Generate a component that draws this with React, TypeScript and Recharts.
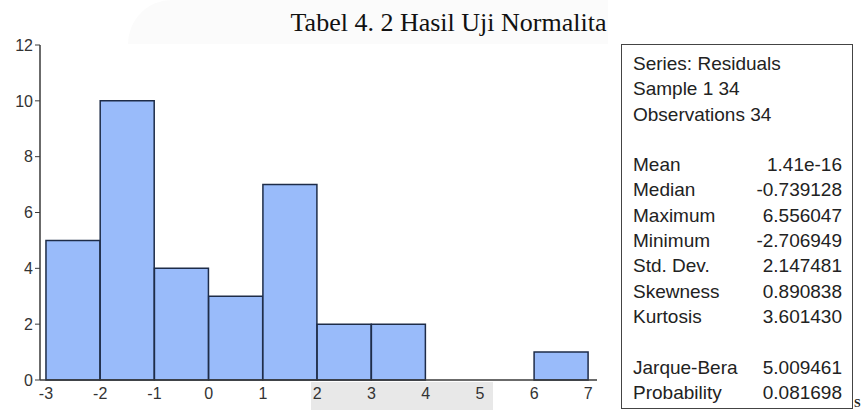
import React from "react";
import { ComposedChart, Bar, XAxis, YAxis } from "recharts";

const binStart = [-3, -2, -1, 0, 1, 2, 3, 4, 5, 6];
const binEnd = [-2, -1, 0, 1, 2, 3, 4, 5, 6, 7];
const counts = [5, 10, 4, 3, 7, 2, 2, 0, 0, 1];
const xTicks = [-3, -2, -1, 0, 1, 2, 3, 4, 5, 6, 7];
const yTicks = [0, 2, 4, 6, 8, 10, 12];

const title = "Tabel 4. 2 Hasil Uji Normalita";
const headerLines = ["Series: Residuals", "Sample 1 34", "Observations 34"];
const statLabels = ["Mean", "Median", "Maximum", "Minimum", "Std. Dev.", "Skewness", "Kurtosis"];
const statValues = ["1.41e-16", "-0.739128", "6.556047", "-2.706949", "2.147481", "0.890838", "3.601430"];
const testLabels = ["Jarque-Bera", "Probability"];
const testValues = ["5.009461", "0.081698"];

const data = counts.map((c, i) => ({ mid: (binStart[i] + binEnd[i]) / 2, count: c }));

const FONT = "Arial, 'Liberation Sans', sans-serif";

export default function App() {
  const rowH = 25.3;
  const row = (label: string, value: string | null, key: string) => (
    <div key={key} style={{ height: rowH, lineHeight: rowH + "px", display: "flex", justifyContent: "space-between", whiteSpace: "nowrap" }}>
      <span>{label}</span>
      <span>{value}</span>
    </div>
  );
  return (
    <div style={{ position: "absolute", left: 0, top: 0, width: 861, height: 410, background: "#fff", overflow: "hidden" }}>
      {/* faint watermark shapes */}
      <div style={{ position: "absolute", left: 128, top: 0, width: 480, height: 44, background: "#fbfbfb", borderTopLeftRadius: 60 }} />
      <div style={{ position: "absolute", left: 311, top: 382, width: 182, height: 28, background: "#e8e8e8" }} />
      <div
        style={{
          position: "absolute",
          left: 0,
          width: 861,
          top: 10,
          lineHeight: "26px",
          textAlign: "center",
          fontFamily: "'Liberation Serif', 'Times New Roman', serif",
          fontSize: 26,
          color: "#111",
          paddingLeft: 36,
          boxSizing: "border-box",
        }}
      >
        {title}
      </div>
      <div style={{ position: "absolute", left: 0, top: 0 }}>
        <ComposedChart
          width={861}
          height={410}
          data={data}
          margin={{ top: 45, right: 264, bottom: 0, left: 0 }}
          barCategoryGap={0}
          barGap={0}
        >
          <XAxis
            dataKey="mid"
            type="number"
            domain={[-3.11, 7.16]}
            ticks={xTicks}
            interval={0}
            allowDataOverflow
            tickLine={false}
            axisLine={{ stroke: "#3a3a3a", strokeWidth: 1.5 }}
            height={30}
            tickMargin={2}
            tick={{ fontFamily: FONT, fontSize: 16, fill: "#333" }}
          />
          <XAxis
            xAxisId="top"
            orientation="top"
            dataKey="mid"
            type="number"
            domain={[-3.11, 7.16]}
            height={0}
            tick={false}
            tickLine={false}
            axisLine={{ stroke: "#3a3a3a", strokeWidth: 1.5 }}
          />
          <YAxis
            domain={[0, 12]}
            ticks={yTicks}
            interval={0}
            width={40}
            tickSize={5}
            tickLine={{ stroke: "#3a3a3a" }}
            axisLine={{ stroke: "#3a3a3a", strokeWidth: 1.5 }}
            tick={{ fontFamily: FONT, fontSize: 16, fill: "#333" }}
            tickMargin={2}
          />
          <YAxis
            yAxisId="right"
            orientation="right"
            domain={[0, 12]}
            width={0}
            tick={false}
            tickLine={false}
            axisLine={{ stroke: "#3a3a3a", strokeWidth: 1.5 }}
          />
          <Bar dataKey="count" fill="#99bbfa" stroke="#1e2c48" strokeWidth={1.5} isAnimationActive={false} />
        </ComposedChart>
      </div>
      <div
        style={{
          position: "absolute",
          left: 621,
          top: 44,
          width: 232,
          height: 365,
          border: "1.5px solid #444",
          boxSizing: "border-box",
          padding: "6px 10px 0 11px",
          fontFamily: FONT,
          fontSize: 19,
          color: "#222",
          background: "#fff",
        }}
      >
        {headerLines.map((h, i) => row(h, null, "h" + i))}
        <div style={{ height: rowH }} />
        {statLabels.map((l, i) => row(l, statValues[i], "s" + i))}
        <div style={{ height: rowH }} />
        {testLabels.map((l, i) => row(l, testValues[i], "t" + i))}
      </div>
      <div
        style={{
          position: "absolute",
          left: 854,
          top: 397,
          fontFamily: "'Liberation Serif', serif",
          fontWeight: "bold",
          fontSize: 12,
          lineHeight: "12px",
          color: "#222",
        }}
      >
        S
      </div>
    </div>
  );
}
